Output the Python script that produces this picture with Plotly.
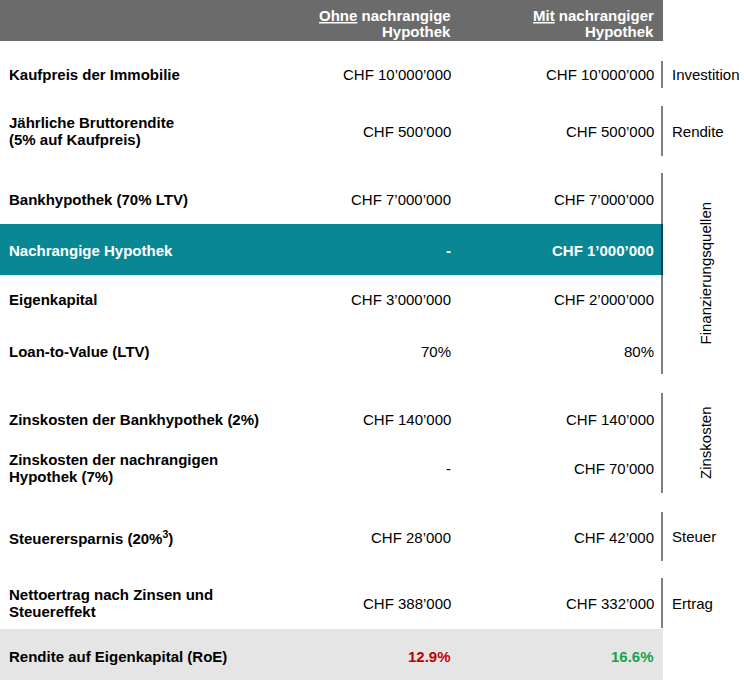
import plotly.graph_objects as go

# ---------------- data ----------------
row_labels = [
    "Kaufpreis der Immobilie",
    "Jährliche Bruttorendite\n(5% auf Kaufpreis)",
    "Bankhypothek (70% LTV)",
    "Nachrangige Hypothek",
    "Eigenkapital",
    "Loan-to-Value (LTV)",
    "Zinskosten der Bankhypothek (2%)",
    "Zinskosten der nachrangigen\nHypothek (7%)",
    "Steuerersparnis (20%<sup>3</sup>)",
    "Nettoertrag nach Zinsen und\nSteuereffekt",
    "Rendite auf Eigenkapital (RoE)",
]
ohne_values = [
    "CHF 10’000’000", "CHF 500’000", "CHF 7’000’000", "-", "CHF 3’000’000",
    "70%", "CHF 140’000", "-", "CHF 28’000", "CHF 388’000", "12.9%",
]
mit_values = [
    "CHF 10’000’000", "CHF 500’000", "CHF 7’000’000", "CHF 1’000’000", "CHF 2’000’000",
    "80%", "CHF 140’000", "CHF 70’000", "CHF 42’000", "CHF 332’000", "16.6%",
]
header_ohne = ["<u>Ohne</u> nachrangige", "Hypothek"]
header_mit = ["<u>Mit</u> nachrangiger", "Hypothek"]
group_names = ["Investition", "Rendite", "Finanzierungsquellen", "Zinskosten", "Steuer", "Ertrag"]
group_vertical = [False, False, True, True, False, False]

# ---------------- layout (pixel coordinates) ----------------
W, H = 744, 683
row_centers = [74, 131, 199, 250, 299, 351, 419, 468, 537, 603, 656]
group_spans = [(61, 88), (106, 156), (173, 374), (393, 493), (512, 561), (578, 628)]
highlight_row = 3
result_row = 10
label_x = 8
col1_x = 452
col2_x = 655
table_right = 663
bracket_x = 662
group_text_x = 671
group_vert_x = 705
line_gap = 17

FONT = "Liberation Sans, Arial, Helvetica, sans-serif"
FS = 15
FS_BOLD = 15
HEADER_BG = "#6b6b6b"
TEAL = "#0a8794"
RESULT_BG = "#e5e5e5"
RED = "#c00000"
GREEN = "#12a44a"

fig = go.Figure()
fig.add_trace(go.Scatter(x=[0, W], y=[0, H], mode="markers",
                         marker=dict(opacity=0), hoverinfo="skip", showlegend=False))

shapes = []
# header band
shapes.append(dict(type="rect", xref="x", yref="y", x0=0, x1=table_right, y0=0, y1=41,
                   fillcolor=HEADER_BG, line=dict(width=0), layer="below"))
# highlighted row
hc = row_centers[highlight_row]
shapes.append(dict(type="rect", xref="x", yref="y", x0=0, x1=table_right, y0=hc - 26, y1=hc + 25,
                   fillcolor=TEAL, line=dict(width=0), layer="below"))
# result row
rc = row_centers[result_row]
shapes.append(dict(type="rect", xref="x", yref="y", x0=0, x1=table_right, y0=rc - 27, y1=rc + 24,
                   fillcolor=RESULT_BG, line=dict(width=0), layer="below"))
# group brackets
for (y0, y1) in group_spans:
    shapes.append(dict(type="line", xref="x", yref="y", x0=bracket_x, x1=bracket_x, y0=y0, y1=y1,
                       line=dict(color="black", width=1)))

ann = []


def add_text(x, y, text, anchor, color="black", bold=False, angle=0):
    t = f"<b>{text}</b>" if bold else text
    size = FS_BOLD if bold else FS
    ann.append(dict(x=x, y=y, xref="x", yref="y", text=t, showarrow=False,
                    xanchor=anchor, yanchor="middle", textangle=angle,
                    font=dict(family=FONT, size=size, color=color), borderpad=0))


# header text
for i, line in enumerate(header_ohne):
    add_text(col1_x, 15 + i * 16, line, "right", color="white", bold=True)
for i, line in enumerate(header_mit):
    add_text(col2_x, 15 + i * 16, line, "right", color="white", bold=True)

# rows
for i, (lab, v1, v2) in enumerate(zip(row_labels, ohne_values, mit_values)):
    yc = row_centers[i]
    lines = lab.split("\n")
    n = len(lines)
    txt_color = "white" if i == highlight_row else "black"
    for k, ln in enumerate(lines):
        yy = yc + (k - (n - 1) / 2) * line_gap
        add_text(label_x, yy, ln, "left", color=txt_color, bold=True)
    if i == highlight_row:
        add_text(col1_x, yc, v1, "right", color="white", bold=True)
        add_text(col2_x, yc, v2, "right", color="white", bold=True)
    elif i == result_row:
        add_text(col1_x, yc, v1, "right", color=RED, bold=True)
        add_text(col2_x, yc, v2, "right", color=GREEN, bold=True)
    else:
        add_text(col1_x, yc, v1, "right")
        add_text(col2_x, yc, v2, "right")

# group labels
for name, (y0, y1), vert in zip(group_names, group_spans, group_vertical):
    ym = (y0 + y1) / 2
    if vert:
        add_text(group_vert_x, ym, name, "center", angle=-90)
    else:
        add_text(group_text_x, ym, name, "left")

fig.update_layout(
    width=W, height=H,
    margin=dict(l=0, r=0, t=0, b=0),
    paper_bgcolor="white", plot_bgcolor="white",
    xaxis=dict(range=[0, W], visible=False, fixedrange=True),
    yaxis=dict(range=[H, 0], visible=False, fixedrange=True),
    shapes=shapes, annotations=ann, showlegend=False,
)

fig.write_html("out.html", config={"displayModeBar": False},
               post_script="document.body.style.margin='0';document.body.style.overflow='hidden';")
